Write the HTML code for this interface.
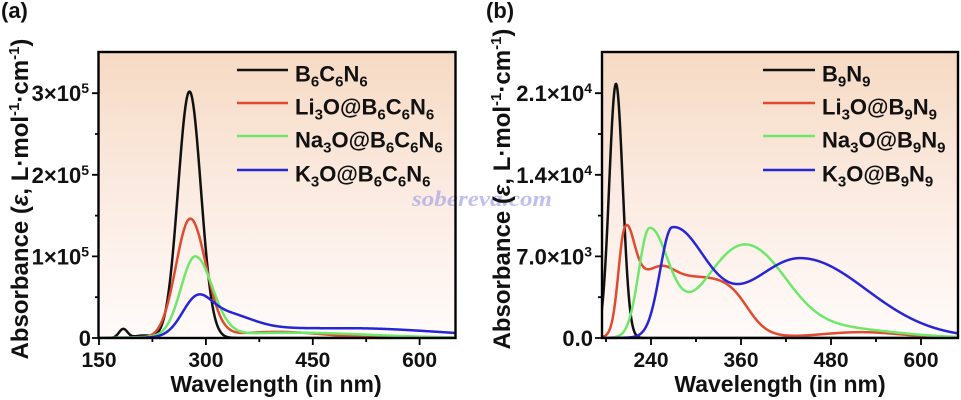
<!DOCTYPE html>
<html><head><meta charset="utf-8">
<style>
html,body{margin:0;padding:0;background:#fff;}
svg{display:block;}
text{font-family:"Liberation Sans",Arial,sans-serif;font-weight:bold;fill:#111;}
</style></head><body>
<svg width="961" height="400" viewBox="0 0 961 400" xmlns="http://www.w3.org/2000/svg">
<defs>
<linearGradient id="bg" x1="0" y1="0" x2="0" y2="1">
<stop offset="0" stop-color="#f6dac3"/>
<stop offset="0.5" stop-color="#fbebe2"/>
<stop offset="1" stop-color="#fffbfa"/>
</linearGradient>
<clipPath id="ca"><rect x="99" y="52" width="356" height="286"/></clipPath>
<clipPath id="cb"><rect x="602" y="52" width="356" height="286"/></clipPath>
</defs>

<!-- backgrounds -->
<rect x="99" y="52" width="356" height="286" fill="url(#bg)"/>
<rect x="602" y="52" width="356" height="286" fill="url(#bg)"/>

<!-- curves panel a -->
<g clip-path="url(#ca)" fill="none" stroke-width="2.5" stroke-linejoin="round">
<path id="pa0" stroke="#111111" d=""/>
<path id="pa1" stroke="#e04a2f" d=""/>
<path id="pa2" stroke="#6ee86a" d=""/>
<path id="pa3" stroke="#2626d6" d=""/>
</g>
<!-- curves panel b -->
<g clip-path="url(#cb)" fill="none" stroke-width="2.5" stroke-linejoin="round">
<path id="pb0" stroke="#111111" d=""/>
<path id="pb1" stroke="#e04a2f" d=""/>
<path id="pb2" stroke="#6ee86a" d=""/>
<path id="pb3" stroke="#2626d6" d=""/>
</g>

<!-- watermark -->
<text x="412" y="206" font-family="Liberation Serif" font-style="italic" font-size="22" textLength="140" lengthAdjust="spacingAndGlyphs" style="font-family:'Liberation Serif',serif;fill:#9d9ee6;opacity:0.65">sobereva.com</text>

<!-- frames -->
<rect x="98.5" y="52" width="357" height="286" fill="none" stroke="#000" stroke-width="2.4"/>
<rect x="602" y="52" width="356" height="286" fill="none" stroke="#000" stroke-width="2.4"/>

<!-- ticks panel a -->
<g stroke="#000" stroke-width="1.8">
<path d="M99 338V345M205.9 338V345M312.8 338V345M419.6 338V345"/>
<path d="M152.4 338V342M259.3 338V342M366.2 338V342"/>
<path d="M99 338H92M99 256.4H92M99 174.8H92M99 93.2H92"/>
<path d="M99 297.2H95M99 215.6H95M99 134H95"/>
</g>
<!-- ticks panel b -->
<g stroke="#000" stroke-width="1.8">
<path d="M651 338V345M741 338V345M831 338V345M921 338V345"/>
<path d="M606 338V342M696 338V342M786 338V342M876 338V342"/>
<path d="M602 338H595M602 256.4H595M602 174.8H595M602 93.2H595"/>
<path d="M602 297.2H598M602 215.6H598M602 134H598"/>
</g>

<!-- panel labels -->
<text x="1" y="18" font-size="22">(a)</text>
<text x="486" y="18" font-size="22">(b)</text>

<!-- x tick labels a -->
<text x="99" y="367" font-size="21" text-anchor="middle">150</text>
<text x="205.9" y="367" font-size="21" text-anchor="middle">300</text>
<text x="312.8" y="367" font-size="21" text-anchor="middle">450</text>
<text x="419.6" y="367" font-size="21" text-anchor="middle">600</text>
<!-- x tick labels b -->
<text x="651" y="367" font-size="21" text-anchor="middle">240</text>
<text x="741" y="367" font-size="21" text-anchor="middle">360</text>
<text x="831" y="367" font-size="21" text-anchor="middle">480</text>
<text x="921" y="367" font-size="21" text-anchor="middle">600</text>

<!-- y tick labels a -->
<text x="91" y="346" font-size="22" text-anchor="end">0</text>
<text x="89" y="264.4" font-size="22" text-anchor="end">1×10<tspan dy="-8" font-size="14">5</tspan></text>
<text x="89" y="182.8" font-size="22" text-anchor="end">2×10<tspan dy="-8" font-size="14">5</tspan></text>
<text x="89" y="101.2" font-size="22" text-anchor="end">3×10<tspan dy="-8" font-size="14">5</tspan></text>
<!-- y tick labels b -->
<text x="593" y="346" font-size="22" text-anchor="end">0.0</text>
<text x="592" y="264.4" font-size="22" text-anchor="end">7.0×10<tspan dy="-8" font-size="14">3</tspan></text>
<text x="592" y="182.8" font-size="22" text-anchor="end">1.4×10<tspan dy="-8" font-size="14">4</tspan></text>
<text x="592" y="101.2" font-size="22" text-anchor="end">2.1×10<tspan dy="-8" font-size="14">4</tspan></text>

<!-- axis titles -->
<text x="276" y="392" font-size="23" text-anchor="middle">Wavelength (in nm)</text>
<text x="780" y="392" font-size="23" text-anchor="middle">Wavelength (in nm)</text>
<text transform="translate(28,199) rotate(-90)" x="0" y="0" font-size="24" text-anchor="middle">Absorbance (<tspan font-style="italic">ε</tspan>,  L·mol<tspan dy="-9" font-size="15">-1</tspan><tspan dy="9">·cm</tspan><tspan dy="-9" font-size="15">-1</tspan><tspan dy="9">)</tspan></text>
<text transform="translate(510,189) rotate(-90)" x="0" y="0" font-size="24" text-anchor="middle">Absorbance (<tspan font-style="italic">ε</tspan>,  L·mol<tspan dy="-9" font-size="15">-1</tspan><tspan dy="9">·cm</tspan><tspan dy="-9" font-size="15">-1</tspan><tspan dy="9">)</tspan></text>

<!-- legend a -->
<g stroke-width="2.5">
<line x1="237" y1="70" x2="288" y2="70" stroke="#111"/>
<line x1="237" y1="103" x2="288" y2="103" stroke="#e04a2f"/>
<line x1="237" y1="136" x2="288" y2="136" stroke="#6ee86a"/>
<line x1="237" y1="170" x2="288" y2="170" stroke="#2626d6"/>
</g>
<g font-size="22">
<text x="295" y="81.5">B<tspan font-size="15" dy="5">6</tspan><tspan dy="-5">C</tspan><tspan font-size="15" dy="5">6</tspan><tspan dy="-5">N</tspan><tspan font-size="15" dy="5">6</tspan></text>
<text x="295" y="114.5">Li<tspan font-size="15" dy="5">3</tspan><tspan dy="-5">O@B</tspan><tspan font-size="15" dy="5">6</tspan><tspan dy="-5">C</tspan><tspan font-size="15" dy="5">6</tspan><tspan dy="-5">N</tspan><tspan font-size="15" dy="5">6</tspan></text>
<text x="295" y="147.5">Na<tspan font-size="15" dy="5">3</tspan><tspan dy="-5">O@B</tspan><tspan font-size="15" dy="5">6</tspan><tspan dy="-5">C</tspan><tspan font-size="15" dy="5">6</tspan><tspan dy="-5">N</tspan><tspan font-size="15" dy="5">6</tspan></text>
<text x="295" y="181.5">K<tspan font-size="15" dy="5">3</tspan><tspan dy="-5">O@B</tspan><tspan font-size="15" dy="5">6</tspan><tspan dy="-5">C</tspan><tspan font-size="15" dy="5">6</tspan><tspan dy="-5">N</tspan><tspan font-size="15" dy="5">6</tspan></text>
</g>

<!-- legend b -->
<g stroke-width="2.5">
<line x1="763" y1="70" x2="815" y2="70" stroke="#111"/>
<line x1="763" y1="103" x2="815" y2="103" stroke="#e04a2f"/>
<line x1="763" y1="136" x2="815" y2="136" stroke="#6ee86a"/>
<line x1="763" y1="170" x2="815" y2="170" stroke="#2626d6"/>
</g>
<g font-size="22">
<text x="822" y="81.5">B<tspan font-size="15" dy="5">9</tspan><tspan dy="-5">N</tspan><tspan font-size="15" dy="5">9</tspan></text>
<text x="822" y="114.5">Li<tspan font-size="15" dy="5">3</tspan><tspan dy="-5">O@B</tspan><tspan font-size="15" dy="5">9</tspan><tspan dy="-5">N</tspan><tspan font-size="15" dy="5">9</tspan></text>
<text x="822" y="147.5">Na<tspan font-size="15" dy="5">3</tspan><tspan dy="-5">O@B</tspan><tspan font-size="15" dy="5">9</tspan><tspan dy="-5">N</tspan><tspan font-size="15" dy="5">9</tspan></text>
<text x="822" y="181.5">K<tspan font-size="15" dy="5">3</tspan><tspan dy="-5">O@B</tspan><tspan font-size="15" dy="5">9</tspan><tspan dy="-5">N</tspan><tspan font-size="15" dy="5">9</tspan></text>
</g>
</svg>
<script>
(function(){
function G(x,m,a,s){var d=x-m;return a*Math.exp(-d*d/(2*s*s));}
function AG(x,m,a,sl,sr){return G(x,m,a,x<m?sl:sr);}
function S(z){return 1/(1+Math.exp(-z));}
function XA(l){return 99+(l-150)*0.7125;}
function YA(v){return 338-v*81.6;}
function XB(l){return 651+(l-240)*0.75;}
function YB(v){return 338-v*81.6/7;}
function mk(f,x0,x1,X,Y){var s='';for(var l=x0;l<=x1+0.001;l+=0.5){s+=(s?'L':'M')+X(l).toFixed(2)+' '+Y(f(l)).toFixed(2);}return s;}
var fa=[
function(x){return G(x,184,0.11,6)+G(x,212,0.03,12)+G(x,277,3.02,16);},
function(x){return AG(x,278,1.45,20,22)+G(x,400,0.075,65);},
function(x){return AG(x,285,0.97,20,24)+G(x,420,0.065,110);},
function(x){var t=0.12*S((x-300)/15);if(x>500){var d=x-500;t*=Math.exp(-d*d/(2*130*130));}return G(x,286,0.36,20)+G(x,322,0.2,38)+t;}
];
var fb=[
function(x){return G(x,193.3,21.8,9);},
function(x){return AG(x,204,5.8,8,12)+5.3*S((x-200)/6)*S((368-x)/14)+G(x,255,0.9,16)+G(x,520,0.5,55);},
function(x){var t=0.85*S((x-390)/15);if(x>480){var d=x-480;t*=Math.exp(-d*d/(2*80*80));}return AG(x,237.6,9.0,14,25)+G(x,363,7.9,52)+t;},
function(x){return AG(x,268,9.15,16,44)+AG(x,439,6.85,70,88);}
];
for(var i=0;i<4;i++){
document.getElementById('pa'+i).setAttribute('d',mk(fa[i],150,652,XA,YA));
document.getElementById('pb'+i).setAttribute('d',mk(fb[i],174,652,XB,YB));
}
})();
</script>
</body></html>
